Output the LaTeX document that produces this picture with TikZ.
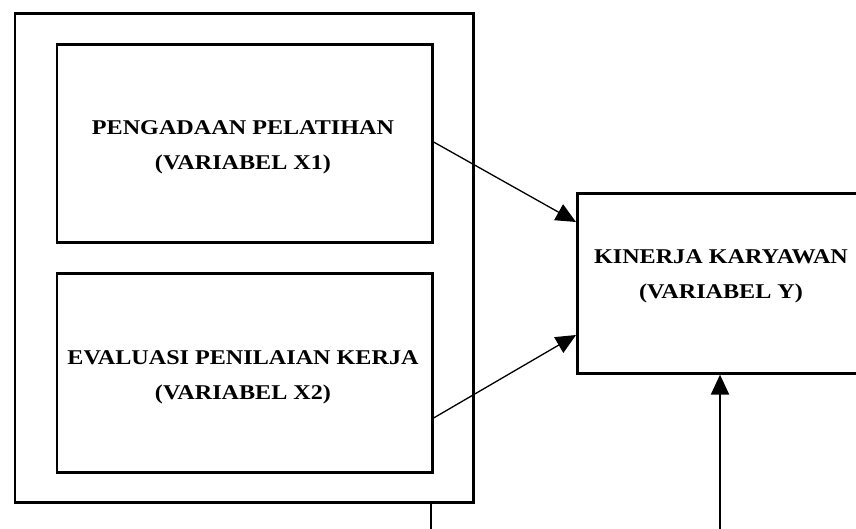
\documentclass[tikz,border=0pt]{standalone}
\usepackage{fontspec}
\setmainfont[FakeStretch=1.15]{Liberation Serif}
\usetikzlibrary{arrows.meta,calc}
\begin{document}
\begin{tikzpicture}[x=1pt,y=-1pt,
  frame/.style={draw=black,line width=2.6pt,rectangle,inner sep=0pt,anchor=north west},
  vartext/.style={align=center,font=\fontsize{21}{35}\selectfont\bfseries},
  conn/.style={line width=1.3pt,-{Triangle[length=20pt,width=18pt]}}]
\useasboundingbox (0,0) rectangle (856,529);
\clip (0,0) rectangle (856,529);
\node[frame,minimum width=458.5pt,minimum height=489pt] (outer) at (13.5,12) {};
\node[frame,minimum width=375.5pt,minimum height=198.5pt] (box1) at (55.5,43) {};
\node[frame,minimum width=375.5pt,minimum height=199pt] (box2) at (55.5,272) {};
\node[frame,minimum width=290pt,minimum height=180pt] (boxY) at (576,192) {};
\node[vartext] (t1) at (243,147) {PENGADAAN PELATIHAN\\(VARIABEL X1)};
\node[vartext] (t2) at (243,377) {EVALUASI PENILAIAN KERJA\\(VARIABEL X2)};
\node[vartext] (tY) at (721,276) {KINERJA KARYAWAN\\(VARIABEL Y)};
\coordinate (a1s) at ($(box1.north east)+(0,99)$);
\coordinate (a1e) at ($(boxY.north west)+(0,30)$);
\coordinate (a2s) at ($(box2.north east)+(0,146)$);
\coordinate (a2e) at ($(boxY.north west)+(0,143)$);
\coordinate (bot1) at (431,529);
\coordinate (bot2) at (720,529);
\draw[conn] (a1s) -- (a1e);
\draw[conn] (a2s) -- (a2e);
\draw[line width=2pt] (outer.south -| bot1) -- (bot1);
\draw[line width=2pt,-{Triangle[length=20pt,width=18pt]}] (bot2) -- (boxY.south -| bot2);
\end{tikzpicture}
\end{document}
